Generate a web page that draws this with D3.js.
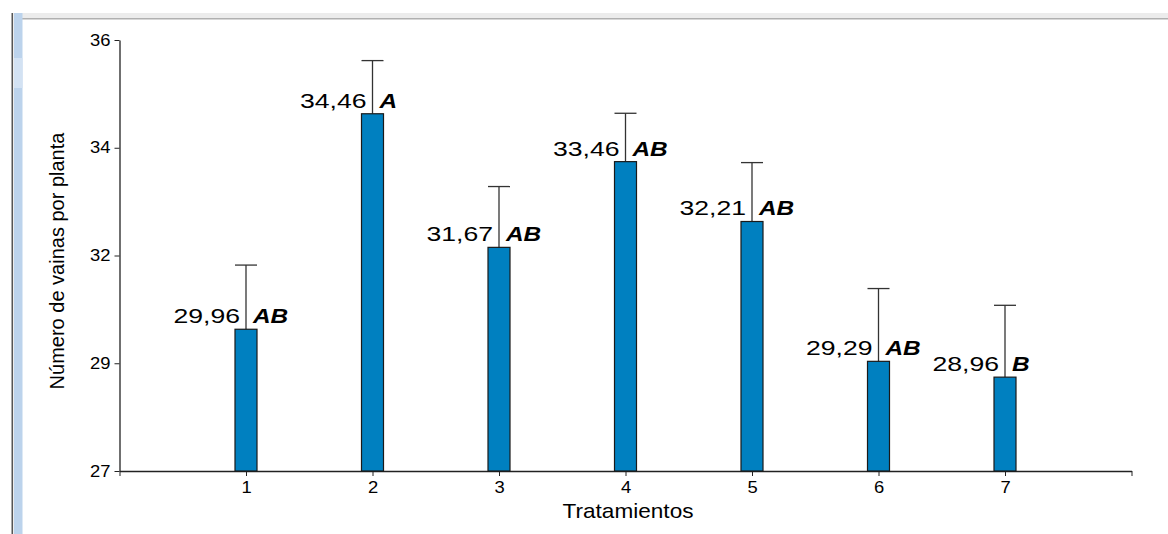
<!DOCTYPE html>
<html>
<head>
<meta charset="utf-8">
<script src="https://cdn.jsdelivr.net/npm/d3@7"></script>
<style>
  html, body { margin: 0; padding: 0; background: #fff; }
  svg { display: block; font-family: "Liberation Sans", Arial, sans-serif; }
</style>
</head>
<body>
<svg id="chart" width="1168" height="534"></svg>
<script>
// Treatments, mean pod counts, standard errors and Tukey grouping letters
const treatments = [1, 2, 3, 4, 5, 6, 7];
const means = [29.96, 34.46, 31.67, 33.46, 32.21, 29.29, 28.96];
const errors = [1.34, 1.11, 1.27, 1.01, 1.23, 1.52, 1.50];
const letters = ["AB", "A", "AB", "AB", "AB", "AB", "B"];

// Axis ticks
const yTickValues = [27, 29.25, 31.5, 33.75, 36];
const yTickLabels = ["27", "29", "32", "34", "36"];
const xTickValues = [0, 1, 2, 3, 4, 5, 6, 7, 8];

const svg = d3.select("#chart");

// Window frame decorations
svg.append("rect").attr("x", 22).attr("y", 13).attr("width", 1146).attr("height", 5).attr("fill", "#ececec");
svg.append("rect").attr("x", 22).attr("y", 18).attr("width", 1146).attr("height", 1.5).attr("fill", "#b0b0b0");
svg.append("rect").attr("x", 11.5).attr("y", 13).attr("width", 1.6).attr("height", 521).attr("fill", "#555");
svg.append("rect").attr("x", 14).attr("y", 13).attr("width", 8.5).attr("height", 521).attr("fill", "#bcd3ec");
svg.append("rect").attr("x", 14).attr("y", 58).attr("width", 8.5).attr("height", 30).attr("fill", "#d3e2f3");

const x = d3.scaleLinear().domain([0, 8]).range([119.5, 1131.5]);
const y = d3.scaleLinear().domain([27, 36]).range([471, 40]);

const barW = 22;

// Horizontal stretch applied to text, keeping its anchor point fixed
function stretch(sel, sx) {
  sel.each(function () {
    const t = d3.select(this);
    const tx = +t.attr("x") || 0;
    const ty = +t.attr("y") || 0;
    t.attr("x", 0).attr("y", 0)
     .attr("transform", `translate(${tx},${ty}) scale(${sx},1)`);
  });
}

// Y axis
const yAxis = svg.append("g")
  .attr("transform", `translate(${x(0)},0)`)
  .call(d3.axisLeft(y)
    .tickValues(yTickValues)
    .tickFormat((d, i) => yTickLabels[i])
    .tickSize(5).tickSizeOuter(0).tickPadding(4));
yAxis.select(".domain").attr("stroke", "#222").attr("stroke-width", 1.3);
yAxis.selectAll(".tick line").attr("stroke", "#222");
yAxis.selectAll(".tick text")
  .attr("fill", "#000").style("font-size", "16px")
  .style("font-family", "'Liberation Sans', Arial, sans-serif");
stretch(yAxis.selectAll(".tick text"), 1.15);

// X axis
const xAxis = svg.append("g")
  .attr("transform", `translate(0,${y(27)})`)
  .call(d3.axisBottom(x)
    .tickValues(xTickValues)
    .tickFormat(d => treatments.includes(d) ? String(d) : "")
    .tickSize(5).tickSizeOuter(0).tickPadding(6));
xAxis.select(".domain").attr("stroke", "#222").attr("stroke-width", 1.3);
xAxis.selectAll(".tick line").attr("stroke", "#222");
xAxis.selectAll(".tick text")
  .attr("fill", "#000").style("font-size", "16px")
  .style("font-family", "'Liberation Sans', Arial, sans-serif");
stretch(xAxis.selectAll(".tick text"), 1.15);

const rows = treatments.map((t, i) => ({ t, m: means[i], e: errors[i], g: letters[i] }));

// Error whiskers (upper only)
const whisk = svg.append("g").attr("stroke", "#333").attr("stroke-width", 1.3);
whisk.selectAll("line.v").data(rows).join("line")
  .attr("class", "v")
  .attr("x1", d => x(d.t)).attr("x2", d => x(d.t))
  .attr("y1", d => y(d.m)).attr("y2", d => y(d.m + d.e));
whisk.selectAll("line.cap").data(rows).join("line")
  .attr("class", "cap")
  .attr("x1", d => x(d.t) - barW / 2).attr("x2", d => x(d.t) + barW / 2)
  .attr("y1", d => y(d.m + d.e)).attr("y2", d => y(d.m + d.e));

// Bars
svg.append("g").selectAll("rect").data(rows).join("rect")
  .attr("x", d => x(d.t) - barW / 2)
  .attr("width", barW)
  .attr("y", d => y(d.m))
  .attr("height", d => y(27) - y(d.m))
  .attr("fill", "#0080c0")
  .attr("stroke", "#1a1a1a")
  .attr("stroke-width", 1.2);

// Mean labels and grouping letters
const fmt = v => v.toFixed(2).replace(".", ",");
svg.append("g").selectAll("text").data(rows).join("text")
  .attr("text-anchor", "end")
  .attr("x", d => x(d.t) - 6)
  .attr("y", d => y(d.m) - 6)
  .attr("fill", "#000")
  .style("font-size", "20px")
  .text(d => fmt(d.m))
  .call(s => stretch(s, 1.33));
svg.append("g").selectAll("text").data(rows).join("text")
  .attr("text-anchor", "start")
  .attr("x", d => x(d.t) + 7)
  .attr("y", d => y(d.m) - 6)
  .attr("fill", "#000")
  .style("font-size", "20px")
  .style("font-weight", "bold")
  .style("font-style", "italic")
  .text(d => d.g)
  .call(s => stretch(s, 1.22));

// Axis titles
svg.append("text")
  .attr("text-anchor", "middle")
  .attr("x", 628).attr("y", 518)
  .attr("fill", "#000")
  .style("font-size", "20px")
  .text("Tratamientos")
  .call(s => stretch(s, 1.13));

svg.append("text")
  .attr("text-anchor", "middle")
  .attr("transform", "translate(64,261) rotate(-90)")
  .attr("fill", "#000")
  .style("font-size", "20px")
  .text("Número de vainas por planta");
</script>
</body>
</html>
